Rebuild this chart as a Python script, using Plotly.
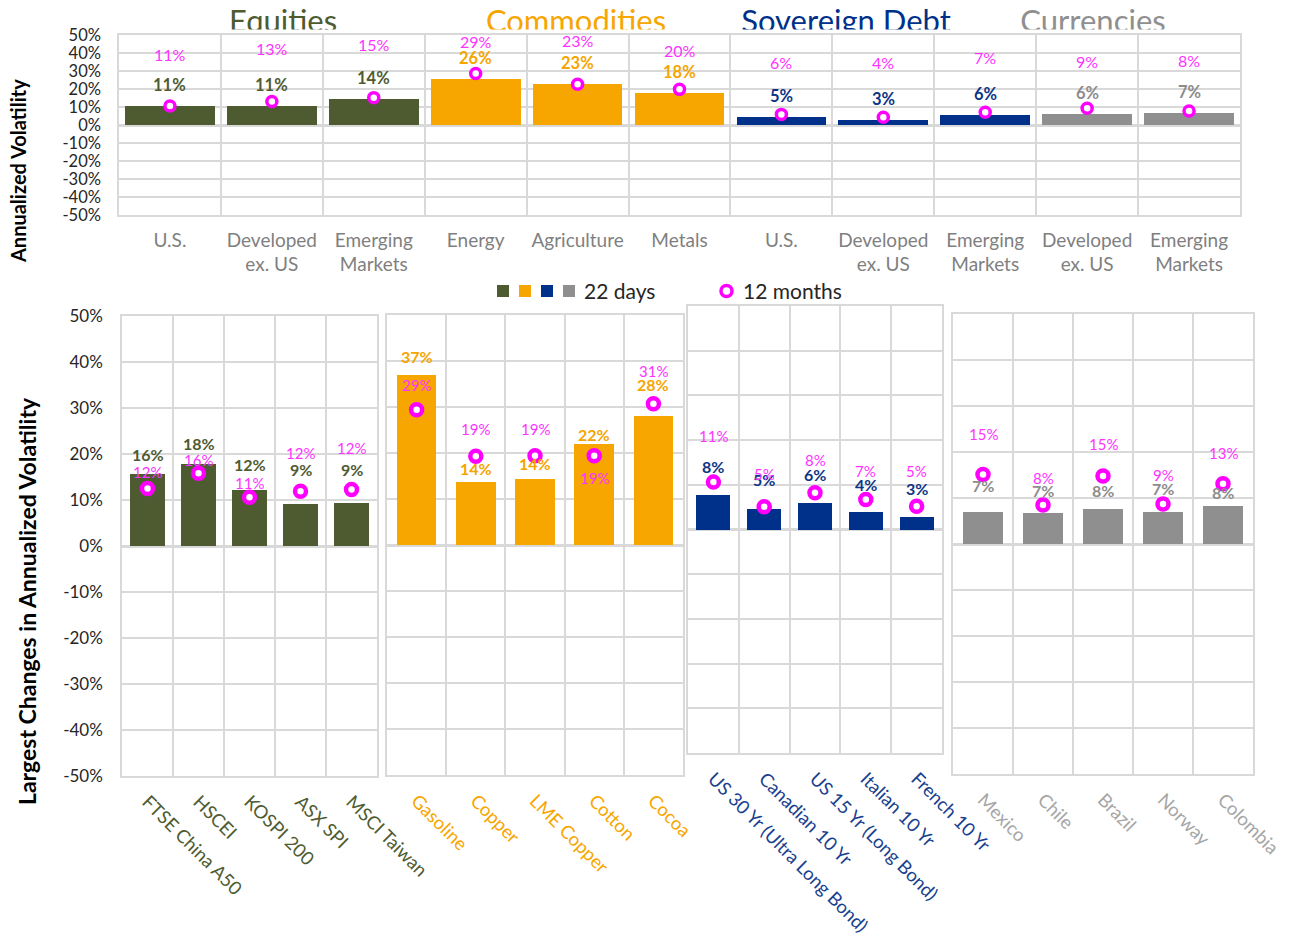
import plotly.graph_objects as go

# The page body adds an 8px offset; work in screenshot pixels and convert.
SCREEN_W, SCREEN_H = 1295, 943
OFF = 8
FW, FH = SCREEN_W - 2 * OFF, SCREEN_H - 2 * OFF

# ---------------- data ----------------
TOP_CATEGORIES = ["U.S.", "Developed<br>ex. US", "Emerging<br>Markets",
                  "Energy", "Agriculture", "Metals",
                  "U.S.", "Developed<br>ex. US", "Emerging<br>Markets",
                  "Developed<br>ex. US", "Emerging<br>Markets"]
TOP_GROUPS = ["Equities"] * 3 + ["Commodities"] * 3 + ["Sovereign Debt"] * 3 + ["Currencies"] * 2
TOP_22D = [10.8, 10.6, 14.2, 25.7, 22.8, 17.9, 4.6, 2.7, 5.6, 6.0, 6.6]
TOP_12M = [10.6, 13.0, 15.2, 28.6, 22.6, 19.8, 5.9, 4.3, 7.1, 9.3, 7.8]

EQ_NAMES = ["FTSE China A50", "HSCEI", "KOSPI 200", "ASX SPI", "MSCI Taiwan"]
EQ_22D = [15.6, 17.8, 12.2, 9.1, 9.3]
EQ_12M = [12.5, 15.8, 10.6, 11.9, 12.3]

CM_NAMES = ["Gasoline", "Copper", "LME Copper", "Cotton", "Cocoa"]
CM_22D = [37.0, 13.8, 14.4, 21.9, 28.1]
CM_12M = [29.4, 19.3, 19.4, 19.4, 30.7]

SD_NAMES = ["US 30 Yr (Ultra Long Bond)", "Canadian 10 Yr", "US 15 Yr (Long Bond)",
            "Italian 10 Yr", "French 10 Yr"]
SD_22D = [7.7, 4.6, 6.0, 4.0, 2.8]
SD_12M = [10.6, 5.1, 8.2, 6.7, 5.2]

FX_NAMES = ["Mexico", "Chile", "Brazil", "Norway", "Colombia"]
FX_22D = [6.9, 6.8, 7.7, 7.0, 8.3]
FX_12M = [15.1, 8.5, 14.8, 8.7, 13.1]

Y_TICKS = [-50, -40, -30, -20, -10, 0, 10, 20, 30, 40, 50]
Y_TICK_TEXT = [f"{v}%" for v in Y_TICKS]

# ---------------- styles ----------------
FONT = "Lato"
COLORS = {"Equities": "#4E5B31", "Commodities": "#F7A600",
          "Sovereign Debt": "#00318A", "Currencies": "#8F8F8F"}
LABEL_COLORS = {"Equities": "#4E5B31", "Commodities": "#F5A500",
                "Sovereign Debt": "#0D3585", "Currencies": "#8C8C8C"}
TICK_COLORS = {"Equities": "#4E5B31", "Commodities": "#F7A600",
               "Sovereign Debt": "#1A3F8F", "Currencies": "#A6A6A6"}
MAGENTA = "#FF00FF"
MAG_TEXT = "#FF33FF"
GRID = "#D9D9D9"

# label nudges (pixels above the value point)
TOP_BAR_SHIFT = [21] * 11
TOP_12M_SHIFT = [51, 53, 53, 32, 44, 39, 52, 55, 55, 47, 50]
EQ_BAR_SHIFT, EQ_12M_SHIFT = [20, 21, 25, 35, 34], [17, 13, 14, 38, 41]
CM_BAR_SHIFT, CM_12M_SHIFT = [18, 13, 15, 10, 31], [25, 27, 27, -22, 33]
SD_BAR_SHIFT, SD_12M_SHIFT = [29, 29, 28, 27, 28], [46, 33, 33, 29, 35]
FX_BAR_SHIFT, FX_12M_SHIFT = [27, 22, 18, 23, 13], [41, 27, 32, 29, 31]


def px(x):
    return (x - OFF) / FW


def py(y):
    return 1 - (y - OFF) / FH


def dx(a, b):
    return [px(a), px(b)]


def dy(top, bottom):
    return [py(bottom), py(top)]


fig = go.Figure()
annotations = []


def add_labels(xref, yref, d22, m12, groups, bar_shift, m_shift, bar_size, mag_size):
    for i, (v, m, g) in enumerate(zip(d22, m12, groups)):
        annotations.append(dict(x=i, y=v, xref=xref, yref=yref, text=f"{v:.0f}%",
                                showarrow=False, xanchor="center", yanchor="middle",
                                yshift=bar_shift[i],
                                font=dict(family=FONT, size=bar_size, color=LABEL_COLORS[g],
                                          weight="bold")))
        annotations.append(dict(x=i, y=m, xref=xref, yref=yref, text=f"{m:.0f}%",
                                showarrow=False, xanchor="center", yanchor="middle",
                                yshift=m_shift[i],
                                font=dict(family=FONT, size=mag_size, color=MAG_TEXT)))


# ---------------- top chart ----------------
fig.add_trace(go.Bar(x=list(range(len(TOP_22D))), y=TOP_22D, width=0.88,
                     marker=dict(color=[COLORS[g] for g in TOP_GROUPS], line=dict(width=0)),
                     xaxis="x", yaxis="y", showlegend=False, hoverinfo="skip"))
fig.add_trace(go.Scatter(x=list(range(len(TOP_12M))), y=TOP_12M, mode="markers",
                         marker=dict(symbol="circle", size=10, color="white",
                                     line=dict(color=MAGENTA, width=3.5)),
                         xaxis="x", yaxis="y", showlegend=False, hoverinfo="skip"))
add_labels("x", "y", TOP_22D, TOP_12M, TOP_GROUPS, TOP_BAR_SHIFT, TOP_12M_SHIFT, 16.5, 16)

grid_common = dict(showgrid=True, gridcolor=GRID, gridwidth=1.5,
                   showline=True, mirror=True, linecolor=GRID, linewidth=1.5,
                   zeroline=True, zerolinecolor=GRID, zerolinewidth=2.5,
                   range=[-50, 50], tickmode="array", tickvals=Y_TICKS,
                   ticktext=Y_TICK_TEXT, ticks="", fixedrange=True, automargin=False)
xcommon = dict(showgrid=False, zeroline=False, showline=True, mirror=True,
               linecolor=GRID, linewidth=1.5, ticks="", fixedrange=True, automargin=False,
               minor=dict(tickmode="linear", tick0=0.5, dtick=1, showgrid=True,
                          gridcolor=GRID, gridwidth=1.5, ticks=""))

layout = dict(
    xaxis=dict(domain=dx(119, 1240), range=[-0.5, 10.5], tickmode="array",
               tickvals=list(range(11)), ticktext=TOP_CATEGORIES, anchor="y",
               tickfont=dict(family=FONT, size=19, color="#7F7F7F"),
               ticklabelstandoff=7, **xcommon),
    yaxis=dict(domain=dy(35, 215), anchor="x", ticklabelstandoff=13,
               tickfont=dict(family=FONT, size=16.5, color="#262626"), **grid_common),
)

# ---------------- bottom panels ----------------
panels = [
    ("Equities", EQ_NAMES, EQ_22D, EQ_12M, EQ_BAR_SHIFT, EQ_12M_SHIFT, (122, 377), (316, 776)),
    ("Commodities", CM_NAMES, CM_22D, CM_12M, CM_BAR_SHIFT, CM_12M_SHIFT, (387, 683), (315, 775)),
    ("Sovereign Debt", SD_NAMES, SD_22D, SD_12M, SD_BAR_SHIFT, SD_12M_SHIFT, (688, 942), (306, 753)),
    ("Currencies", FX_NAMES, FX_22D, FX_12M, FX_BAR_SHIFT, FX_12M_SHIFT, (953, 1253), (314, 774)),
]

for k, (grp, names, d22, m12, bshift, mshift, xdom, ydom) in enumerate(panels):
    n = k + 2
    xa, ya = f"x{n}", f"y{n}"
    idx = list(range(len(names)))
    fig.add_trace(go.Bar(x=idx, y=d22, width=0.67,
                         marker=dict(color=COLORS[grp], line=dict(width=0)),
                         xaxis=xa, yaxis=ya, showlegend=False, hoverinfo="skip"))
    fig.add_trace(go.Scatter(x=idx, y=m12, mode="markers",
                             marker=dict(symbol="circle", size=11, color="white",
                                         line=dict(color=MAGENTA, width=4.5)),
                             xaxis=xa, yaxis=ya, showlegend=False, hoverinfo="skip"))
    add_labels(xa, ya, d22, m12, [grp] * len(names), bshift, mshift, 16, 15)
    layout[f"xaxis{n}"] = dict(domain=dx(*xdom), range=[-0.5, len(names) - 0.5],
                               tickmode="array", tickvals=idx, ticktext=names,
                               tickangle=45, anchor=ya, ticklabelstandoff=6,
                               tickfont=dict(family=FONT, size=18.5, color=TICK_COLORS[grp]),
                               **xcommon)
    layout[f"yaxis{n}"] = dict(domain=dy(*ydom), anchor=xa,
                               showticklabels=(k == 0), ticklabelstandoff=14,
                               tickfont=dict(family=FONT, size=17, color="#262626"),
                               **grid_common)

# ---------------- group headers (clipped at the top chart edge) ----------------
HEADER_TEXT = ["Equities", "Commodities", "Sovereign Debt", "Currencies"]
HEADER_PX = [283, 576, 846, 1093]
layout["xaxis6"] = dict(domain=[0, 1], range=[OFF, OFF + FW], visible=False, fixedrange=True,
                        anchor="y6", automargin=False)
layout["yaxis6"] = dict(domain=[py(29.5), 1], range=[29.5, OFF], visible=False,
                        fixedrange=True, anchor="x6", automargin=False)
fig.add_trace(go.Scatter(x=HEADER_PX, y=[24] * 4, mode="text", text=HEADER_TEXT,
                         textposition="middle center", cliponaxis=True,
                         textfont=dict(family=FONT, size=31,
                                       color=[COLORS[g] for g in HEADER_TEXT]),
                         xaxis="x6", yaxis="y6", showlegend=False, hoverinfo="skip"))

# ---------------- legend (drawn) ----------------
shapes = []
for i, g in enumerate(["Equities", "Commodities", "Sovereign Debt", "Currencies"]):
    x0 = 497 + i * 22
    shapes.append(dict(type="rect", xref="paper", yref="paper",
                       x0=px(x0), x1=px(x0 + 12), y0=py(297), y1=py(285),
                       fillcolor=COLORS[g], line=dict(width=0)))
shapes.append(dict(type="circle", xref="paper", yref="paper",
                   x0=px(721), x1=px(732), y0=py(296.5), y1=py(285.5),
                   fillcolor="white", line=dict(color=MAGENTA, width=3.5)))
annotations.append(dict(x=px(582), y=py(291), xref="paper", yref="paper",
                        text="22 days", showarrow=False, xanchor="left", yanchor="middle",
                        font=dict(family=FONT, size=21, color="#262626")))
annotations.append(dict(x=px(741), y=py(291), xref="paper", yref="paper",
                        text="12 months", showarrow=False, xanchor="left", yanchor="middle",
                        font=dict(family=FONT, size=21, color="#262626")))

# ---------------- axis titles ----------------
annotations.append(dict(x=px(18), y=py(171), xref="paper", yref="paper",
                        text="Annualized Volatility", textangle=-90, showarrow=False,
                        xanchor="center", yanchor="middle",
                        font=dict(family=FONT, size=20, color="#000000", weight="bold")))
annotations.append(dict(x=px(27), y=py(601), xref="paper", yref="paper",
                        text="Largest Changes in Annualized Volatility", textangle=-90,
                        showarrow=False, xanchor="center", yanchor="middle",
                        font=dict(family=FONT, size=23, color="#000000", weight="bold")))

fig.update_layout(
    width=FW, height=FH, margin=dict(l=0, r=0, t=0, b=0, pad=0),
    paper_bgcolor="white", plot_bgcolor="white",
    font=dict(family=FONT), bargap=0, showlegend=False,
    annotations=annotations, shapes=shapes, **layout,
)

fig.write_html("out.html")
